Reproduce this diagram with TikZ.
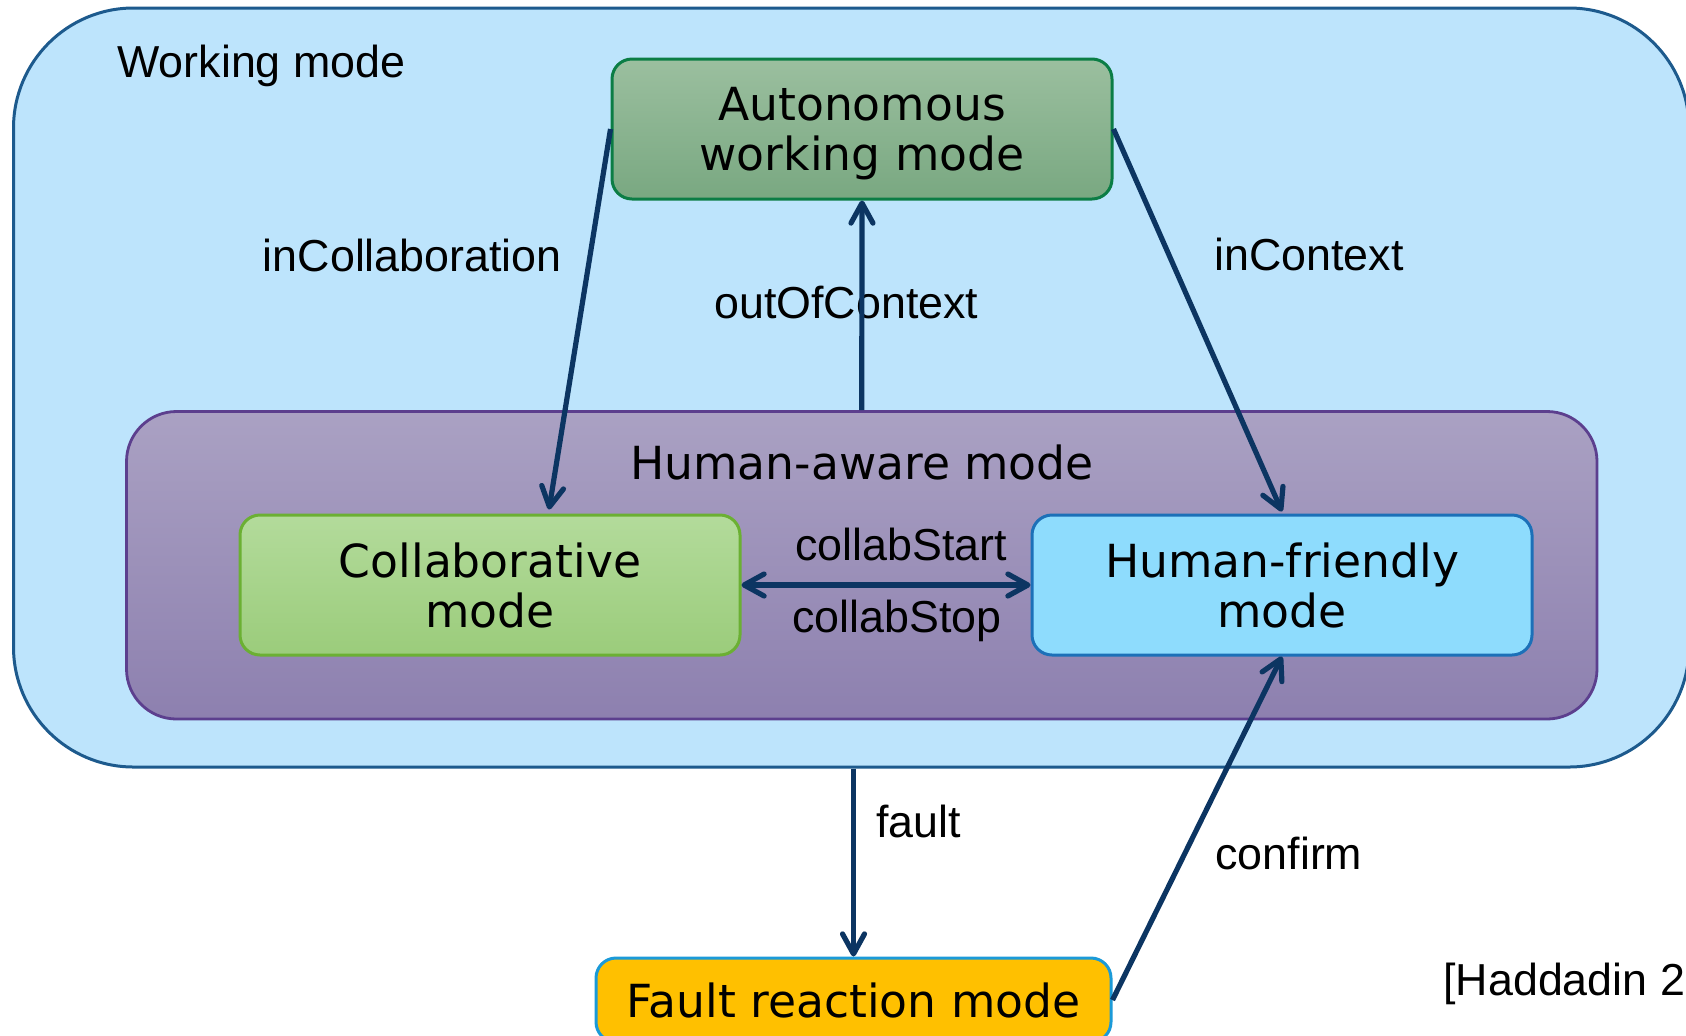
\documentclass[tikz,border=0pt]{standalone}
\usepackage{fontspec}
\setmainfont{Liberation Sans}
\newfontfamily\boxfont{DejaVu Sans}
\usetikzlibrary{arrows.meta,calc}

\definecolor{outerfill}{HTML}{BDE4FC}
\definecolor{outerline}{HTML}{1D5A8D}
\definecolor{hatop}{HTML}{AAA1C3}
\definecolor{habot}{HTML}{8D80AF}
\definecolor{haline}{HTML}{5C3F8E}
\definecolor{autotop}{HTML}{9BBF9F}
\definecolor{autobot}{HTML}{79A881}
\definecolor{autoline}{HTML}{0B7D45}
\definecolor{coltop}{HTML}{B3DB9B}
\definecolor{colbot}{HTML}{9BCC7B}
\definecolor{colline}{HTML}{6BB033}
\definecolor{hffill}{HTML}{8EDCFD}
\definecolor{hfline}{HTML}{1C70B8}
\definecolor{faultfill}{HTML}{FFC000}
\definecolor{faultline}{HTML}{1B9AD8}
\definecolor{arrowcol}{HTML}{0C3562}

\tikzset{
  modebox/.style={draw, rounded corners=10pt, line width=1.5pt, inner sep=0pt,
    minimum width=250pt, minimum height=70pt, align=center,
    font=\boxfont\fontsize{22.8pt}{25pt}\selectfont},
  edgelabel/.style={anchor=base west, inner sep=0pt,
    font=\fontsize{22.4pt}{26pt}\selectfont},
  trans/.style={draw=arrowcol, line width=2.6pt,
    -{Straight Barb[length=10pt,width=11pt,line cap=round,line join=round]}},
  bitrans/.style={draw=arrowcol, line width=2.6pt,
    {Straight Barb[length=10pt,width=11pt,line cap=round,line join=round]}-{Straight Barb[length=10pt,width=11pt,line cap=round,line join=round]}}
}

\begin{document}
\begin{tikzpicture}[x=0.5pt,y=-0.5pt]
\useasboundingbox (0,0) rectangle (1686,1035);
\clip (0,0) rectangle (1686,1035);
\fill[white] (0,0) rectangle (1686,1035);

% enclosing working-mode state
\node[draw=outerline, fill=outerfill, line width=1.5pt, rounded corners=60pt,
  inner sep=0pt, minimum width=837.75pt, minimum height=379.5pt]
  (working) at (851.25,387.5) {};
\node[anchor=base west, inner sep=0pt, font=\fontsize{22.4pt}{26pt}\selectfont]
  (workingtitle) at (117,77) {Working mode};

% human-aware super-state
\node[draw=haline, top color=hatop, bottom color=habot, line width=1.4pt,
  rounded corners=25pt, inner sep=0pt, minimum width=735.25pt, minimum height=153.75pt]
  (humanaware) at (861.75,565.25) {};
\node[anchor=base, inner sep=0pt, font=\boxfont\fontsize{22.8pt}{25pt}\selectfont]
  (hatitle) at (862,479) {Human-aware mode};

% states
\node[modebox, draw=autoline, top color=autotop, bottom color=autobot, text depth=0pt]
  (auto) at (862,129) {Autonomous\\working mode};
\node[modebox, draw=colline, top color=coltop, bottom color=colbot]
  (collab) at (490,585) {Collaborative\\mode};
\node[modebox, draw=hfline, fill=hffill]
  (friendly) at (1282,585) {Human-friendly\\mode};
\node[modebox, draw=faultline, fill=faultfill, minimum width=257.5pt, minimum height=42pt]
  (fault) at (853.5,1000) {Fault reaction mode};

% transition labels
\node[edgelabel] (lcollab) at (262.5,271) {inCollaboration};
\node[edgelabel] (lcontext) at (1214,270) {inContext};
\node[edgelabel] (lout) at (714,318) {outOfContext};
\node[edgelabel] (lstart) at (795,560) {collabStart};
\node[edgelabel] (lstop) at (792,632) {collabStop};
\node[edgelabel] (lfault) at (876,837) {fault};
\node[edgelabel] (lconfirm) at (1215,869) {confirm};
\node[edgelabel] (lref) at (1443,995) {[Haddadin 2};

% transitions
\draw[trans] (auto.west) -- ($(collab.north)+(59,-4)$);
\draw[trans] (auto.east) -- ($(friendly.north)+(0,-2)$);
\draw[trans] (humanaware.north) -- (auto.south);
\draw[bitrans] (collab.east) -- (friendly.west);
\draw[trans] (fault.north |- working.south) -- (fault.north);
\draw[trans] (fault.east) -- (friendly.south);
\end{tikzpicture}
\end{document}
